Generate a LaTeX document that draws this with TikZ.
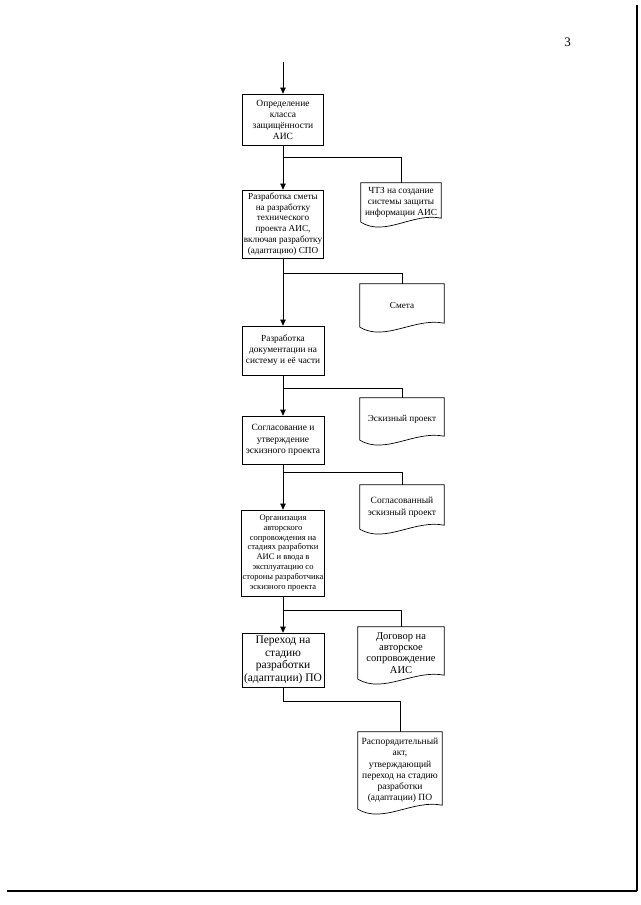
\documentclass[tikz,border=0pt]{standalone}
\usepackage{fontspec}
\setmainfont{Liberation Serif}
\usetikzlibrary{arrows.meta,calc}
\tikzset{
  ln/.style={line width=0.7pt,black},
  arr/.style={ln,-{Triangle[length=6pt,width=5.5pt]}},
  procbox/.style={draw,line width=0.7pt,rectangle,align=center,inner sep=1pt,
    font=\fontsize{9.3}{11}\selectfont},
  doctext/.style={rectangle,draw=none,align=center,inner sep=1pt,
    font=\fontsize{9.2}{11.5}\selectfont},
}
\newcommand\docoutline[1]{%
  \draw[ln] (#1.south west) -- (#1.north west) -- (#1.north east)
    -- ([yshift=4pt]#1.south east)
    .. controls ($(#1.south west)!0.65!(#1.south east)+(0,10pt)$)
    and ($(#1.south west)!0.3!(#1.south east)+(0,-15pt)$) .. (#1.south west);}
\begin{document}
\begin{tikzpicture}[x=1pt,y=-1pt]
\useasboundingbox (0,0) rectangle (640,905);
% page frame remnants
\draw[line width=1.4pt] (7,891) -- (637,891);
\draw[line width=1.4pt] (637,5) -- (637,891);
\node[font=\fontsize{13}{13}\selectfont] (pg) at (567.5,42) {3};

% process boxes
\node[procbox,minimum width=81,minimum height=51,
  font=\fontsize{9.5}{11}\selectfont] (b1) at (283,119.5)
  {Определение\\класса\\защищённости\\АИС};
\node[procbox,minimum width=81,minimum height=68,
  font=\fontsize{9.2}{10.8}\selectfont] (b2) at (283,224)
  {Разработка сметы\\на разработку\\технического\\проекта АИС,\\включая разработку\\(адаптацию) СПО};
\node[procbox,minimum width=82,minimum height=49] (b3) at (283,350.5)
  {Разработка\\документации на\\систему и её части};
\node[procbox,minimum width=82,minimum height=48,
  font=\fontsize{9.5}{11.7}\selectfont] (b4) at (283,440)
  {Согласование и\\утверждение\\эскизного проекта};
\node[procbox,minimum width=82,minimum height=86,
  font=\fontsize{8.5}{9.9}\selectfont] (b5) at (283,553)
  {Организация\\авторского\\сопровождения на\\стадиях разработки\\АИС и ввода в\\эксплуатацию со\\стороны разработчика\\эскизного проекта};
\node[procbox,minimum width=82,minimum height=54,
  font=\fontsize{11.5}{12.8}\selectfont] (b6) at (283,660)
  {Переход на\\стадию\\разработки\\(адаптации) ПО};

% documents
\node[doctext,minimum width=80,minimum height=39,
  font=\fontsize{9.3}{11.3}\selectfont] (dA) at (401,202.5)
  {ЧТЗ на создание\\системы защиты\\информации АИС};
\node[doctext,minimum width=84,minimum height=43] (dB) at (402,305.5)
  {Смета};
\node[doctext,minimum width=84,minimum height=42] (dC) at (402,419)
  {Эскизный проект};
\node[doctext,minimum width=84,minimum height=44,
  font=\fontsize{9.5}{12}\selectfont] (dD) at (402,507)
  {Согласованный\\эскизный проект};
\node[doctext,minimum width=86,minimum height=52,
  font=\fontsize{10.5}{11.2}\selectfont] (dE) at (401,653)
  {Договор на\\авторское\\сопровождение\\АИС};
\node[doctext,minimum width=84,minimum height=77,
  font=\fontsize{9.5}{11.2}\selectfont] (dF) at (400,770.5)
  {Распорядительный\\акт,\\утверждающий\\переход на стадию\\разработки\\(адаптации) ПО};
\docoutline{dA}
\docoutline{dB}
\docoutline{dC}
\docoutline{dD}
\docoutline{dE}
\docoutline{dF}

% main flow
\coordinate (start) at (283,62);
\draw[arr] (start) -- (b1.north);
\draw[arr] (b1.south) -- (b2.north);
\draw[arr] (b2.south) -- (b3.north);
\draw[arr] (b3.south) -- (b4.north);
\draw[arr] (b4.south) -- (b5.north);
\draw[arr] (b5.south) -- (b6.north);

% branches to documents
\draw[ln] (b1.south) ++(0,12) -| (dA.north);
\draw[ln] (b2.south) ++(0,15) -| (dB.north);
\draw[ln] (b3.south) ++(0,13) -| (dC.north);
\draw[ln] (b4.south) ++(0,8) -| (dD.north);
\draw[ln] (b5.south) ++(0,14) -| (dE.north);
\draw[ln] (b6.south) -- ++(0,14) -| (dF.north);
\end{tikzpicture}
\end{document}
